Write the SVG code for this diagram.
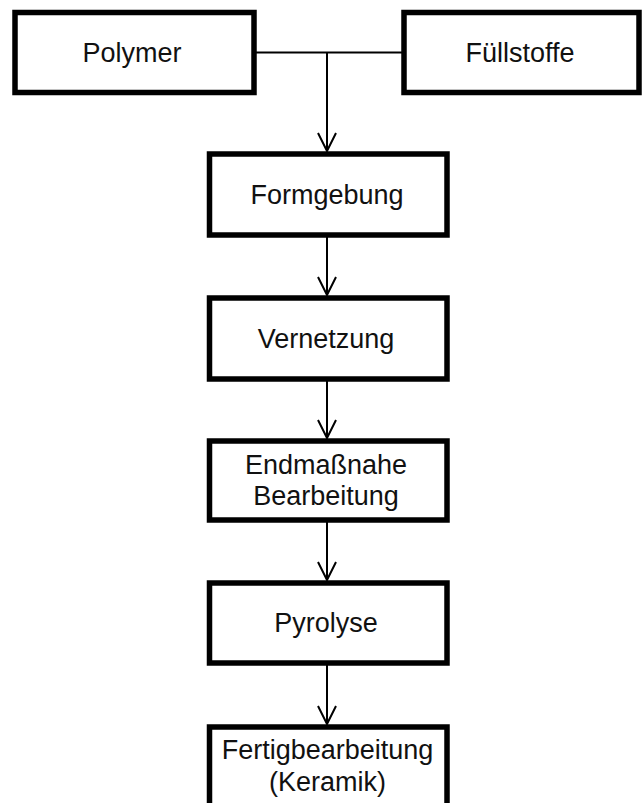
<svg xmlns="http://www.w3.org/2000/svg" width="643" height="803" viewBox="0 0 643 803">
<style>
.box{fill:#fff;stroke:#000;stroke-width:5.5}
.lbl{font-family:"Liberation Sans",Arial,sans-serif;font-size:27px;fill:#111;text-anchor:middle}
.con{fill:none;stroke:#000;stroke-width:2}
</style>
<defs>
<marker id="arr" markerUnits="userSpaceOnUse" orient="auto" refX="0" refY="0" markerWidth="24" markerHeight="24" viewBox="-20 -12 24 24" overflow="visible">
<path d="M-18,-9 L0,0 L-18,9" fill="none" stroke="#000" stroke-width="2"/>
</marker>
</defs>
<rect width="643" height="803" fill="#fff"/>
<g id="connectors">
<line class="con" x1="254" y1="52.5" x2="404" y2="52.5"/>
<line class="con" x1="327" y1="52.5" x2="327" y2="151" marker-end="url(#arr)"/>
<line class="con" x1="327" y1="237" x2="327" y2="295" marker-end="url(#arr)"/>
<line class="con" x1="327" y1="381" x2="327" y2="438" marker-end="url(#arr)"/>
<line class="con" x1="327" y1="522" x2="327" y2="580" marker-end="url(#arr)"/>
<line class="con" x1="327" y1="665" x2="327" y2="724" marker-end="url(#arr)"/>
</g>
<g id="polymer">
<rect class="box" x="15" y="12.5" width="239" height="80"/>
<text class="lbl" x="132" y="62">Polymer</text>
</g>
<g id="fuellstoffe">
<rect class="box" x="404" y="12.5" width="235" height="80"/>
<text class="lbl" x="520" y="62">Füllstoffe</text>
</g>
<g id="formgebung">
<rect class="box" x="209.5" y="154" width="237.5" height="81"/>
<text class="lbl" x="327" y="204">Formgebung</text>
</g>
<g id="vernetzung">
<rect class="box" x="209.5" y="298" width="237.5" height="81"/>
<text class="lbl" x="326" y="347.5">Vernetzung</text>
</g>
<g id="endmassnahe">
<rect class="box" x="209.5" y="441" width="237.5" height="79"/>
<text class="lbl" x="326" y="473.5">Endmaßnahe</text>
<text class="lbl" x="326" y="504.5">Bearbeitung</text>
</g>
<g id="pyrolyse">
<rect class="box" x="209.5" y="583" width="237.5" height="80"/>
<text class="lbl" x="326" y="632">Pyrolyse</text>
</g>
<g id="fertigbearbeitung">
<rect class="box" x="209.5" y="727" width="237.5" height="90"/>
<text class="lbl" x="327.5" y="759">Fertigbearbeitung</text>
<text class="lbl" x="327.5" y="791">(Keramik)</text>
</g>
</svg>
